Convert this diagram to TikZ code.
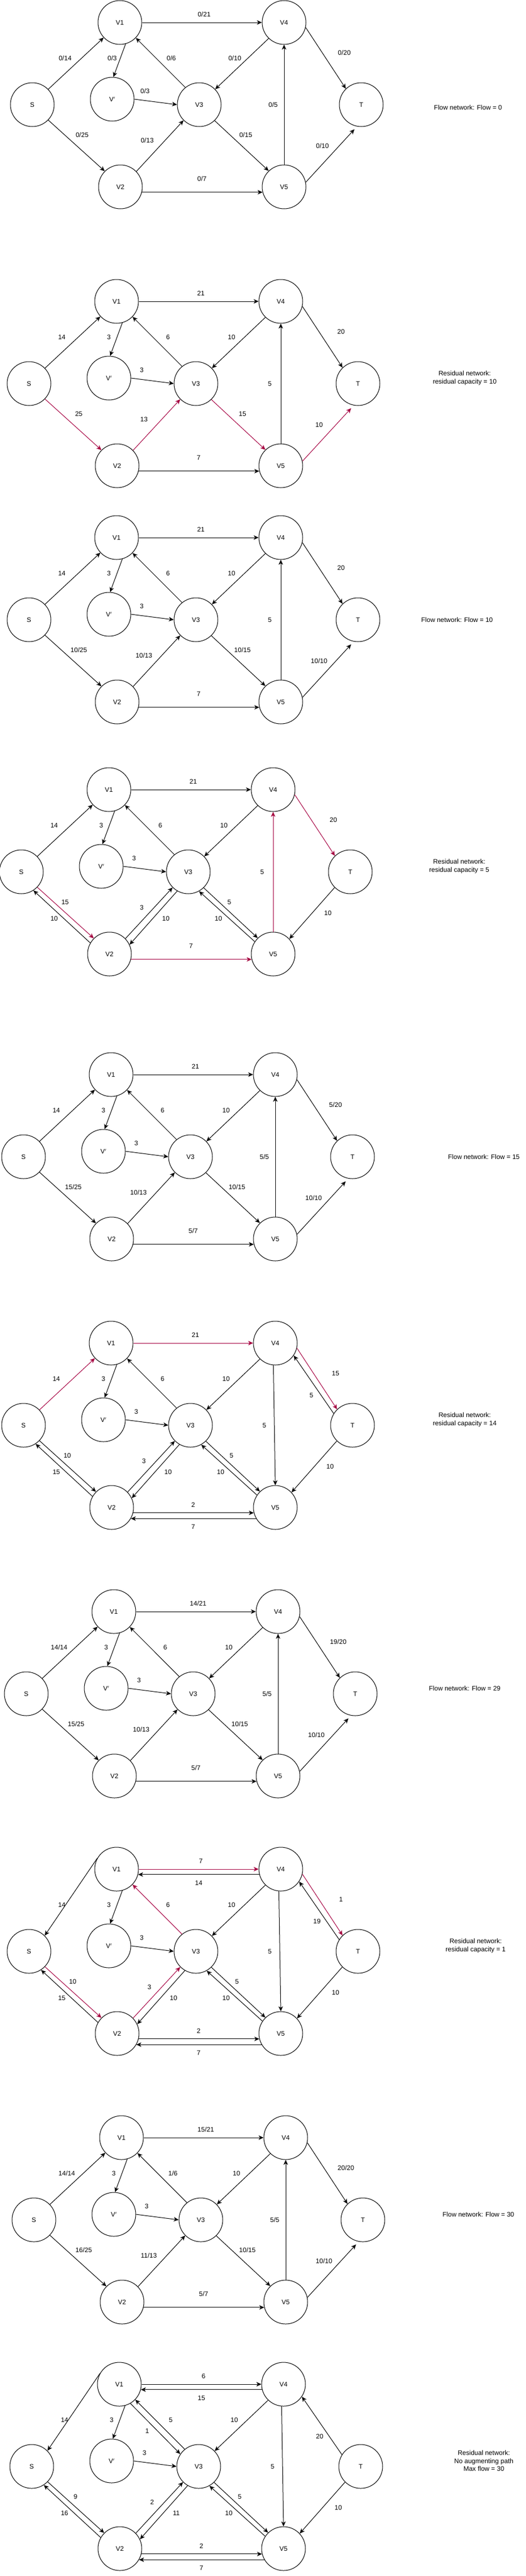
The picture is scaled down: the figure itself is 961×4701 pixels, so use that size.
\documentclass[tikz,border=0pt]{standalone}
\usepackage{fontspec}
\setmainfont{Liberation Sans}
\usetikzlibrary{arrows.meta}
\definecolor{augred}{HTML}{A50040}
\newcommand\fsz{\fontsize{12}{14.5}\selectfont}
\tikzset{
  vtx/.style={circle, draw=black, line width=1pt, minimum size=80pt, inner sep=0pt, font=\fsz, fill=white},
  flow/.style={line width=1pt, draw=black, -{Stealth[length=9pt,width=8pt,inset=2.5pt]}},
  aug/.style={draw=augred},
  lbl/.style={font=\fsz, inner sep=0pt},
  note/.style={font=\fsz, align=center, inner sep=0pt}
}
\newcommand\placeflownodes{%
  \node[vtx] (V1) at (0,0) {V1};
  \node[vtx] (S) at (-160,150) {S};
  \node[vtx] (Vp) at (-14,140) {V$'$};
  \node[vtx] (V3) at (145,150) {V3};
  \node[vtx] (V4) at (300,0) {V4};
  \node[vtx] (T) at (441,150) {T};
  \node[vtx] (V2) at (1,300) {V2};
  \node[vtx] (V5) at (300,300) {V5};
}
% edges: [style]{label}
\newcommand\edVoVf[2][]{\draw[flow,#1] (V1.east) -- (V4.west); \node[lbl] (t-V1V4) at (154,-15) {#2};}
\newcommand\edVfVo[2][]{\draw[flow,#1] (V4.194) -- (V1.-14); \node[lbl] (t-V4V1) at (150,25) {#2};}
\newcommand\edSVo[2][]{\draw[flow,#1] (S.44) -- (V1.-137); \node[lbl] (t-SV1) at (-100,65) {#2};}
\newcommand\edVoS[2][]{\draw[flow,#1] (V1.150) -- (S.45); \node[lbl] (t-V1S) at (-100,65) {#2};}
\newcommand\edVoVp[2][]{\draw[flow,#1] (V1.-75) -- (Vp.87); \node[lbl] (t-V1Vp) at (-14,65) {#2};}
\newcommand\edVtVo[2][]{\draw[flow,#1] (V3.129) -- (V1.-44); \node[lbl] (t-V3V1) at (94,65) {#2};}
\newcommand\edVoVt[2][]{\draw[flow,#1] (V1.-60) -- (V3.146); \node[lbl] (t-V1V3) at (51,85) {#2};}
\newcommand\edVfVt[2][]{\draw[flow,#1] (V4.-134) -- (V3.44); \node[lbl] (t-V4V3) at (210,65) {#2};}
\newcommand\edVfT[2][]{\draw[flow,#1] (V4.-13) -- (T.134); \node[lbl] (t-V4T) at (410,55) {#2};}
\newcommand\edTVf[2][]{\draw[flow,#1] (T.148) -- (V4.-34); \node[lbl] (t-TV4) at (366,95) {#2};}
\newcommand\edVpVt[2][]{\draw[flow,#1] (Vp.0) -- (V3.180); \node[lbl] (t-VpV3) at (46,125) {#2};}
\newcommand\edVvVf[2][]{\draw[flow,#1] (V5.north) -- (V4.south); \node[lbl] (t-V5V4) at (280,150) {#2};}
\newcommand\edVfVv[2][]{\draw[flow,#1] (V4.-95) -- (V5.north); \node[lbl] (t-V4V5) at (280,150) {#2};}
\newcommand\edSVw[3][]{\draw[flow,#1] (S.-44) -- (V2.135); \node[lbl] (t-SV2) at (#2) {#3};}
\newcommand\edVwS[2][]{\draw[flow,#1] (V2.150) -- (S.-57); \node[lbl] (t-V2S) at (-100,235) {#2};}
\newcommand\edVwVt[3][]{\draw[flow,#1] (V2.44) -- (V3.-135); \node[lbl] (t-V2V3) at (#2) {#3};}
\newcommand\edVtVw[2][]{\draw[flow,#1] (V3.-120) -- (V2.25); \node[lbl] (t-V3V2) at (104,235) {#2};}
\newcommand\edVtVv[3][]{\draw[flow,#1] (V3.-46) -- (V5.134); \node[lbl] (t-V3V5) at (#2) {#3};}
\newcommand\edVvVt[2][]{\draw[flow,#1] (V5.146) -- (V3.-61); \node[lbl] (t-V5V3) at (200,235) {#2};}
\newcommand\edVvT[2][]{\draw[flow,#1,shorten >=7pt] (V5.12) -- (T.-101); \node[lbl] (t-V5T) at (370,225) {#2};}
\newcommand\edTVv[2][]{\draw[flow,#1] (T.-135) -- (V5.43); \node[lbl] (t-TV5) at (400,225) {#2};}
\newcommand\edVwVv[3][]{\draw[flow,#1] (V2.-14) -- (V5.194); \node[lbl] (t-V2V5) at (#2) {#3};}
\newcommand\edVvVw[2][]{\draw[flow,#1] (V5.210) -- (V2.-30); \node[lbl] (t-V5V2) at (150,335) {#2};}

\begin{document}
\begin{tikzpicture}[x=1pt,y=-1pt]
\useasboundingbox (0,0) rectangle (961,4701);

% ---------- Panel 1 ----------
\begin{scope}[shift={(219,41)}, name prefix=a-]
\placeflownodes
\edVoVf{0/21}
\edSVo{0/14}
\edVoVp{0/3}
\edVtVo{0/6}
\edVfVt{0/10}
\edVfT{0/20}
\edVpVt{0/3}
\edVvVf{0/5}
\edSVw{-69,205}{0/25}
\edVwVt{50,215}{0/13}
\edVtVv{230,205}{0/15}
\edVvT{0/10}
\edVwVv{150,285}{0/7}
\end{scope}
\node[note] (n1) at (855,196) {Flow network: Flow = 0};

% ---------- Panel 2 ----------
\begin{scope}[shift={(213,550)}, name prefix=b-]
\placeflownodes
\edVoVf{21}
\edSVo{14}
\edVoVp{3}
\edVtVo{6}
\edVfVt{10}
\edVfT{20}
\edVpVt{3}
\edVvVf{5}
\edSVw[aug]{-69,205}{25}
\edVwVt[aug]{50,215}{13}
\edVtVv[aug]{230,205}{15}
\edVvT[aug]{10}
\edVwVv{150,285}{7}
\end{scope}
\node[note] (n2) at (849,690) {Residual network:\\residual capacity = 10};

% ---------- Panel 3 ----------
\begin{scope}[shift={(213,981)}, name prefix=c-]
\placeflownodes
\edVoVf{21}
\edSVo{14}
\edVoVp{3}
\edVtVo{6}
\edVfVt{10}
\edVfT{20}
\edVpVt{3}
\edVvVf{5}
\edSVw{-69,205}{10/25}
\edVwVt{50,215}{10/13}
\edVtVv{230,205}{10/15}
\edVvT{10/10}
\edVwVv{150,285}{7}
\end{scope}
\node[note] (n3) at (835,1131) {Flow network: Flow = 10};

% ---------- Panel 4 ----------
\begin{scope}[shift={(199,1441)}, name prefix=d-]
\placeflownodes
\edVoVf{21}
\edSVo{14}
\edVoVp{3}
\edVtVo{6}
\edVfVt{10}
\edVfT[aug]{20}
\edVpVt{3}
\edVvVf[aug]{5}
\edSVw[aug]{-80,205}{15}
\edVwS{10}
\edVwVt{60,215}{3}
\edVtVw{10}
\edVtVv{220,205}{5}
\edVvVt{10}
\edTVv{10}
\edVwVv[aug]{150,285}{7}
\end{scope}
\node[note] (n4) at (839,1581) {Residual network:\\residual capacity = 5};

% ---------- Panel 5 ----------
\begin{scope}[shift={(203,1961)}, name prefix=e-]
\placeflownodes
\edVoVf{21}
\edSVo{14}
\edVoVp{3}
\edVtVo{6}
\edVfVt{10}
\edVfT{5/20}
\edVpVt{3}
\edVvVf{5/5}
\edSVw{-69,205}{15/25}
\edVwVt{50,215}{10/13}
\edVtVv{230,205}{10/15}
\edVvT{10/10}
\edVwVv{150,285}{5/7}
\end{scope}
\node[note] (n5) at (884,2111) {Flow network: Flow = 15};

% ---------- Panel 6 ----------
\begin{scope}[shift={(203,2451)}, name prefix=f-]
\placeflownodes
\edVoVf[aug]{21}
\edSVo[aug]{14}
\edVoVp{3}
\edVtVo{6}
\edVfVt{10}
\edVfT[aug]{15}
\edTVf{5}
\edVpVt{3}
\edVfVv{5}
\edSVw{-80,205}{10}
\edVwS{15}
\edVwVt{60,215}{3}
\edVtVw{10}
\edVtVv{220,205}{5}
\edVvVt{10}
\edTVv{10}
\edVwVv{150,295}{2}
\edVvVw{7}
\end{scope}
\node[note] (n6) at (849,2591) {Residual network:\\residual capacity = 14};

% ---------- Panel 7 ----------
\begin{scope}[shift={(208,2941)}, name prefix=g-]
\placeflownodes
\edVoVf{14/21}
\edSVo{14/14}
\edVoVp{3}
\edVtVo{6}
\edVfVt{10}
\edVfT{19/20}
\edVpVt{3}
\edVvVf{5/5}
\edSVw{-69,205}{15/25}
\edVwVt{50,215}{10/13}
\edVtVv{230,205}{10/15}
\edVvT{10/10}
\edVwVv{150,285}{5/7}
\end{scope}
\node[note] (n7) at (849,3081) {Flow network: Flow = 29};

% ---------- Panel 8 ----------
\begin{scope}[shift={(213,3411)}, name prefix=h-]
\placeflownodes
\edVoVf[aug]{7}
\edVfVo{14}
\edVoS{14}
\edVoVp{3}
\edVtVo[aug]{6}
\edVfVt{10}
\edVfT[aug]{1}
\edTVf{19}
\edVpVt{3}
\edVfVv{5}
\edSVw[aug]{-80,205}{10}
\edVwS{15}
\edVwVt[aug]{60,215}{3}
\edVtVw{10}
\edVtVv{220,205}{5}
\edVvVt{10}
\edTVv{10}
\edVwVv{150,295}{2}
\edVvVw{7}
\end{scope}
\node[note] (n8) at (869,3551) {Residual network:\\residual capacity = 1};

% ---------- Panel 9 ----------
\begin{scope}[shift={(222,3901)}, name prefix=i-]
\placeflownodes
\edVoVf{15/21}
\edSVo{14/14}
\edVoVp{3}
\edVtVo{1/6}
\edVfVt{10}
\edVfT{20/20}
\edVpVt{3}
\edVvVf{5/5}
\edSVw{-69,205}{16/25}
\edVwVt{50,215}{11/13}
\edVtVv{230,205}{10/15}
\edVvT{10/10}
\edVwVv{150,285}{5/7}
\end{scope}
\node[note] (n9) at (874,4041) {Flow network: Flow = 30};

% ---------- Panel 10 ----------
\begin{scope}[shift={(218,4351)}, name prefix=j-]
\placeflownodes
\edVoVf{6}
\edVfVo{15}
\edVoS{14}
\edVoVp{3}
\edVtVo{5}
\edVoVt{1}
\edVfVt{10}
\edTVf{20}
\edVpVt{3}
\edVfVv{5}
\edSVw{-80,205}{9}
\edVwS{16}
\edVwVt{60,215}{2}
\edVtVw{11}
\edVtVv{220,205}{5}
\edVvVt{10}
\edTVv{10}
\edVwVv{150,295}{2}
\edVvVw{7}
\end{scope}
\node[note] (n10) at (884,4491) {Residual network:\\No augmenting path\\Max flow = 30};
\end{tikzpicture}
\end{document}
